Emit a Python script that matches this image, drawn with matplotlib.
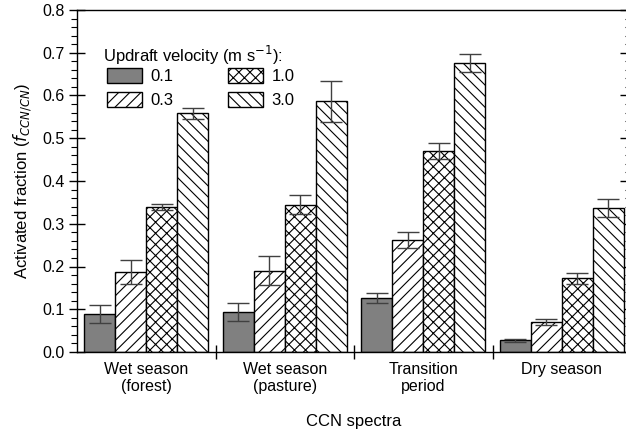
import numpy as np
import matplotlib
matplotlib.use('Agg')
import matplotlib.pyplot as plt
from matplotlib.ticker import MultipleLocator

plt.rcParams['font.family'] = ['Liberation Sans', 'DejaVu Sans']
plt.rcParams['hatch.linewidth'] = 0.8

categories = ['Wet season\n(forest)', 'Wet season\n(pasture)',
              'Transition\nperiod', 'Dry season']
velocities = ['0.1', '0.3', '1.0', '3.0']

# activated fraction per updraft velocity (one value per category)
frac_01 = [0.089, 0.094, 0.126, 0.027]
frac_03 = [0.187, 0.190, 0.262, 0.070]
frac_10 = [0.340, 0.345, 0.471, 0.172]
frac_30 = [0.558, 0.587, 0.677, 0.337]

err_01 = [0.022, 0.021, 0.012, 0.003]
err_03 = [0.028, 0.034, 0.019, 0.008]
err_10 = [0.007, 0.023, 0.019, 0.013]
err_30 = [0.013, 0.048, 0.021, 0.021]

fill = ['#808080', 'white', 'white', 'white']
hatches = [None, '///', 'xxx', '\\\\\\']


def main():
    fig = plt.figure(figsize=(6.26, 4.33), dpi=100)
    ax = fig.add_axes([77 / 626, 1 - 352 / 433, 554 / 626, 342 / 433])

    values = [frac_01, frac_03, frac_10, frac_30]
    errors = [err_01, err_03, err_10, err_30]
    x = np.arange(len(categories))
    w = 0.224
    for i, (vals, errs) in enumerate(zip(values, errors)):
        pos = x + (i - 1.5) * w
        ax.bar(pos, vals, width=w, color=fill[i], edgecolor='black',
               linewidth=1.0, hatch=hatches[i], label=velocities[i],
               zorder=2)
        ax.errorbar(pos, vals, yerr=errs, fmt='none', ecolor='#404040',
                    elinewidth=1.0, capsize=8, capthick=1.0, zorder=3)

    ax.set_xlim(-0.5, len(categories) - 0.5)
    ax.set_ylim(0, 0.8)
    ax.set_xticks(x)
    ax.set_xticklabels(categories, fontsize=11.5)
    ax.set_xticks(x[:-1] + 0.5, minor=True)
    ax.tick_params(axis='x', which='major', length=0, pad=7)
    ax.tick_params(axis='x', which='minor', direction='inout', length=10,
                   width=1.0)
    ax.yaxis.set_major_locator(MultipleLocator(0.1))
    ax.yaxis.set_minor_locator(MultipleLocator(0.02))
    ax.yaxis.set_major_formatter(plt.FormatStrFormatter('%.1f'))
    ax.tick_params(axis='y', which='major', direction='inout', length=11,
                   width=1.0, labelsize=11.5)
    ax.tick_params(axis='y', which='minor', direction='out', length=4.5,
                   width=0.8)

    # right-hand axis carries inward ticks only
    sec = ax.secondary_yaxis('right')
    sec.yaxis.set_major_locator(MultipleLocator(0.1))
    sec.yaxis.set_minor_locator(MultipleLocator(0.02))
    sec.tick_params(which='major', direction='in', length=8, width=1.0,
                    labelright=False)
    sec.tick_params(which='minor', direction='in', length=4.5, width=0.8)

    for s in ax.spines.values():
        s.set_linewidth(1.0)

    ax.set_xlabel('CCN spectra', fontsize=12, labelpad=14)
    ax.set_ylabel('Activated fraction ($f_{CCN/CN}$)', fontsize=12,
                  labelpad=6)

    ax.text(0.047, 0.868, 'Updraft velocity (m s$^{-1}$):', fontsize=12,
            transform=ax.transAxes, ha='left', va='center')
    ax.legend(ncol=2, loc='upper left', bbox_to_anchor=(0.054, 0.83),
              frameon=False, fontsize=12, handlelength=2.1,
              handleheight=1.0, handletextpad=0.5, columnspacing=3.3,
              labelspacing=0.45, borderaxespad=0.0, borderpad=0.0)

    fig.savefig('out.png', dpi=100)


if __name__ == '__main__':
    main()
